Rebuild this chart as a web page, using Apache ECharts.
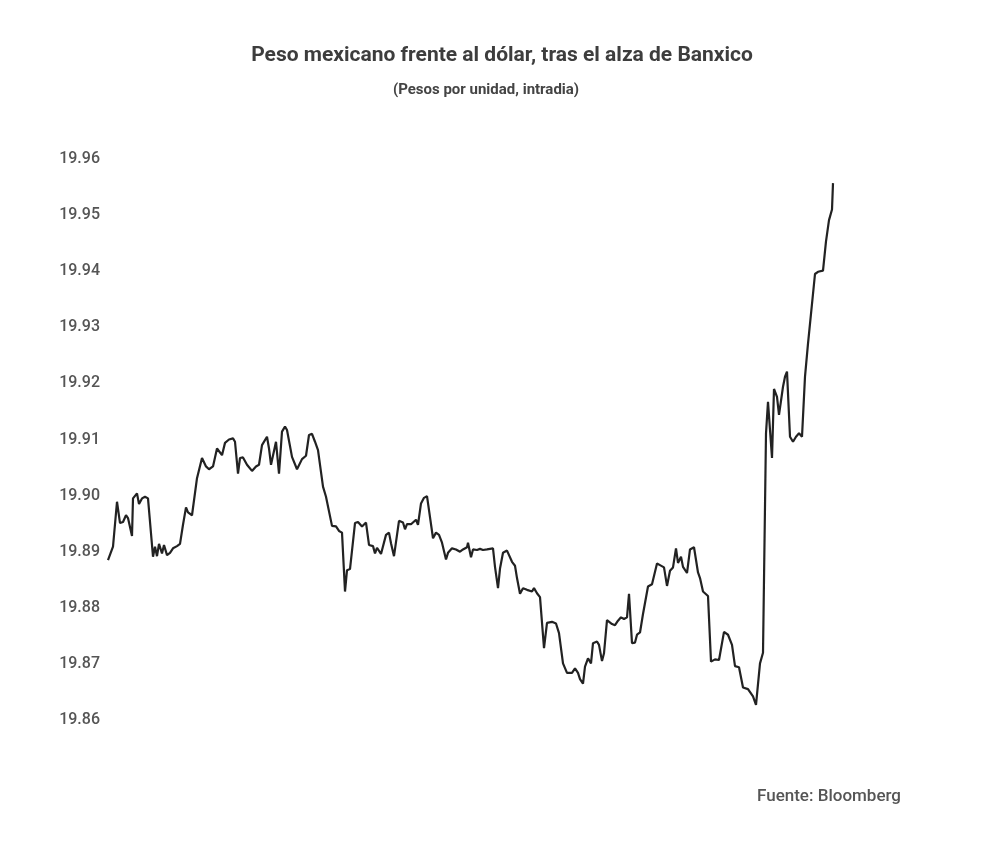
<!DOCTYPE html>
<html>
<head>
<meta charset="utf-8">
<script src="https://cdn.jsdelivr.net/npm/echarts@6/dist/echarts.min.js"></script>
<style>
html,body{margin:0;padding:0;background:#fff;}
#chart{width:1000px;height:856px;}
</style>
</head>
<body>
<div id="chart"></div>
<script>
// Intraday minute index (relative) and USD/MXN values
var minutes = [0,5,9,12,15,18,20,24,25,29,31,34,37,40,45,47,49,51,54,56,59,62,65,69,72,75,78,80,84,89,94,98,101,105,109,111,114,117,121,125,127,130,132,135,139,144,148,151,154,156,159,161,163,165,168,171,174,177,179,184,189,191,194,198,201,204,207,210,215,218,220,224,228,231,234,237,239,242,247,250,254,258,261,265,267,269,273,275,278,281,283,286,291,295,297,299,303,305,308,310,313,316,319,321,325,328,331,334,338,340,344,348,352,355,359,360,363,365,369,372,375,379,385,387,390,392,395,399,401,404,407,409,412,415,419,421,424,426,429,432,436,439,444,448,451,455,459,464,467,470,472,475,477,480,483,485,489,491,494,496,499,504,507,510,513,516,519,521,524,527,529,532,535,537,540,544,546,549,552,556,559,562,565,568,570,573,575,579,582,586,590,592,595,600,603,607,611,616,620,624,627,631,635,640,645,648,650,652,655,658,660,664,666,669,671,675,677,679,682,685,688,691,694,697,700,707,710,715,718,721,724,725];
var pesoValues = [19.8885,19.8909,19.8989,19.8951,19.8953,19.8965,19.8960,19.8928,19.8995,19.9004,19.8985,19.8995,19.8998,19.8995,19.8891,19.8909,19.8892,19.8914,19.8897,19.8912,19.8894,19.8898,19.8906,19.8910,19.8914,19.8948,19.8979,19.8970,19.8965,19.9031,19.9067,19.9052,19.9047,19.9052,19.9084,19.9081,19.9072,19.9094,19.9100,19.9102,19.9096,19.9039,19.9067,19.9068,19.9055,19.9044,19.9052,19.9055,19.9090,19.9087,19.9105,19.9084,19.9055,19.9055,19.9096,19.9039,19.9114,19.9123,19.9117,19.9069,19.9047,19.9046,19.9065,19.9071,19.9108,19.9110,19.9096,19.9081,19.9016,19.8998,19.8997,19.8946,19.8945,19.8937,19.8934,19.8829,19.8867,19.8869,19.8951,19.8953,19.8945,19.8952,19.8912,19.8910,19.8897,19.8907,19.8896,19.8898,19.8930,19.8934,19.8915,19.8892,19.8955,19.8952,19.8940,19.8949,19.8949,19.8949,19.8957,19.8948,19.8986,19.8996,19.8999,19.8974,19.8924,19.8934,19.8930,19.8916,19.8886,19.8898,19.8906,19.8904,19.8900,19.8904,19.8908,19.8916,19.8890,19.8904,19.8903,19.8905,19.8903,19.8904,19.8906,19.8873,19.8835,19.8870,19.8898,19.8902,19.8902,19.8882,19.8875,19.8853,19.8825,19.8835,19.8832,19.8835,19.8829,19.8835,19.8826,19.8819,19.8728,19.8773,19.8775,19.8772,19.8755,19.8701,19.8684,19.8684,19.8692,19.8684,19.8673,19.8665,19.8695,19.8710,19.8701,19.8737,19.8740,19.8734,19.8705,19.8719,19.8778,19.8771,19.8769,19.8777,19.8783,19.8780,19.8783,19.8825,19.8737,19.8738,19.8752,19.8756,19.8789,19.8791,19.8838,19.8842,19.8841,19.8879,19.8876,19.8872,19.8839,19.8866,19.8872,19.8906,19.8880,19.8891,19.8873,19.8862,19.8904,19.8908,19.8863,19.8853,19.8829,19.8821,19.8704,19.8708,19.8707,19.8757,19.8752,19.8734,19.8696,19.8694,19.8658,19.8655,19.8642,19.8627,19.8625,19.8701,19.8720,19.9111,19.9167,19.9067,19.9190,19.9176,19.9144,19.9194,19.9212,19.9221,19.9105,19.9096,19.9105,19.9111,19.9105,19.9212,19.9271,19.9395,19.9399,19.9401,19.9453,19.9491,19.9510,19.9557];
var yTicks = [19.86,19.87,19.88,19.89,19.90,19.91,19.92,19.93,19.94,19.95,19.96];

var titleText = 'Peso mexicano frente al dólar, tras el alza de Banxico';
var subtitleText = '(Pesos por unidad, intradia)';
var sourceText = 'Fuente: Bloomberg';

var seriesData = minutes.map(function(m, i){ return [m, pesoValues[i]]; });

var chart = echarts.init(document.getElementById('chart'), null, {renderer:'canvas'});
chart.setOption({
  animation: false,
  backgroundColor: '#ffffff',
  graphic: [
    {type:'text', x: 502, y: 56, style:{text: titleText, font: 'bold 21px Roboto', fill:'#3d3d3d', textAlign:'center', textVerticalAlign:'middle'}},
    {type:'text', x: 486, y: 90, style:{text: subtitleText, font: 'bold 15px Roboto', fill:'#444444', textAlign:'center', textVerticalAlign:'middle'}},
    {type:'text', x: 901, y: 797, style:{text: sourceText, font: '500 17px Roboto', fill:'#555555', textAlign:'right', textVerticalAlign:'middle'}}
  ],
  grid: {left:108, right:167, top:159, bottom:136, containLabel:false},
  xAxis: {type:'value', min:0, max:725, show:false},
  yAxis: {
    type:'value', min: yTicks[0], max: yTicks[yTicks.length-1], interval:0.01,
    axisLine:{show:false}, axisTick:{show:false}, splitLine:{show:false},
    axisLabel:{margin:8, color:'#555555', fontSize:16, fontFamily:'Roboto', fontWeight:500,
      formatter:function(v){ return v.toFixed(2); }}
  },
  series: [{
    type:'line', data: seriesData, showSymbol:false, symbol:'none',
    lineStyle:{color:'#222222', width:2.2}, silent:true
  }]
});
</script>
</body>
</html>
